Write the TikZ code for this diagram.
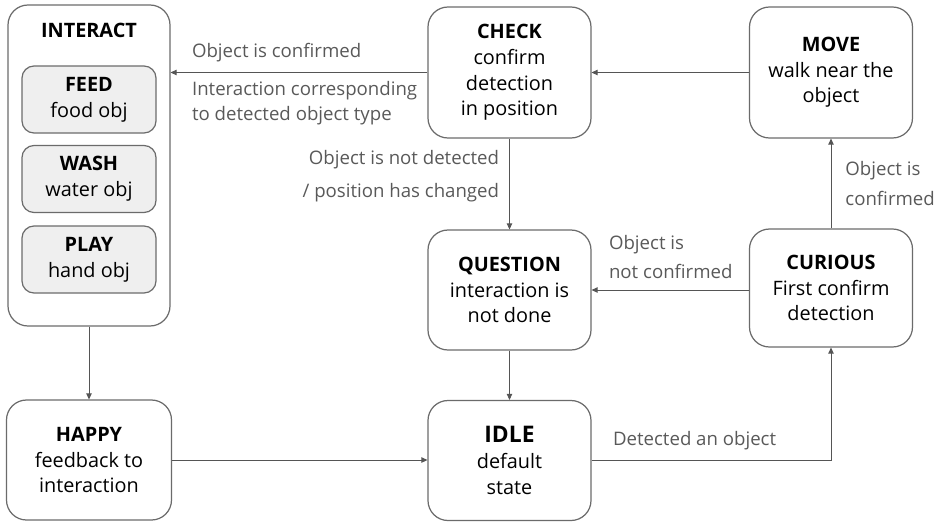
\documentclass[tikz,border=0pt]{standalone}
\usepackage{fontspec}
\setmainfont{Open Sans}
\usetikzlibrary{arrows.meta,positioning,calc}
\definecolor{edge}{HTML}{6B6B6B}
\definecolor{wire}{HTML}{555555}
\definecolor{note}{HTML}{595959}
\definecolor{subfill}{HTML}{EFEFEF}

\begin{document}
\begin{tikzpicture}[
  state/.style={rectangle, draw=edge, line width=0.7pt, rounded corners=0.4cm, minimum width=3.26cm, minimum height=2.4cm, align=center, font=\fontsize{11.3}{14.6}\selectfont, inner sep=1pt},
  sub/.style={rectangle, draw=edge, line width=0.7pt, fill=subfill, rounded corners=0.24cm, minimum width=2.68cm, minimum height=1.34cm, align=center, font=\fontsize{11.3}{15}\selectfont, inner sep=1pt},
  lbl/.style={font=\fontsize{10.6}{16}\selectfont, text=note, inner sep=0pt},
  arr/.style={-{Triangle[length=1.2mm, width=1.1mm]}, line width=0.5pt, draw=wire}
]
  \useasboundingbox (0,0) rectangle (18.78,-10.44);

  % left column
  \node[state, minimum width=3.24cm, minimum height=6.42cm] (interact) at (1.78,-3.31) {};
  \node[font=\fontsize{11.3}{14}\selectfont\bfseries] (interacttitle) at (1.78,-0.6) {INTERACT};
  \node[sub] (feed) at (1.78,-1.99) {\textbf{FEED}\\food obj};
  \node[sub] (wash) at (1.78,-3.58) {\textbf{WASH}\\water obj};
  \node[sub] (play) at (1.78,-5.19) {\textbf{PLAY}\\hand obj};
  \node[state, minimum width=3.3cm] (happy) at (1.78,-9.2) {\textbf{HAPPY}\\feedback to\\interaction};

  % middle column
  \node[state, minimum height=2.62cm] (check) at (10.19,-1.45) {\textbf{CHECK}\\confirm\\detection\\in position};
  \node[state] (question) at (10.19,-5.8) {\textbf{QUESTION}\\interaction is\\not done};
  \node[state] (idle) at (10.19,-9.21) {{\fontsize{13}{14.6}\selectfont\textbf{IDLE}}\\default\\state};

  % right column
  \node[state, minimum height=2.62cm] (move) at (16.62,-1.45) {\textbf{MOVE}\\walk near the\\object};
  \node[state, minimum height=2.36cm] (curious) at (16.62,-5.76) {\textbf{CURIOUS}\\First confirm\\detection};

  % transitions
  \draw[arr] (idle.east) -| (curious.south)
    node[lbl, pos=0, anchor=south west, xshift=0.42cm, yshift=0.2cm] {Detected an object};
  \draw[arr] (curious.north) -- (move.south)
    node[lbl, midway, anchor=west, align=left, xshift=0.28cm, font=\fontsize{10.6}{17}\selectfont] {Object is\\confirmed};
  \draw[arr] (curious.west |- question.east) -- (question.east)
    node[lbl, pos=1, anchor=south west, align=left, xshift=0.34cm, yshift=0.22cm, font=\fontsize{10.6}{16.5}\selectfont] {Object is\\not confirmed};
  \draw[arr] (move.west) -- (check.east);
  \draw[arr] (check.west) -- (check.west -| interact.east)
    node[lbl, pos=1, anchor=south west, xshift=0.42cm, yshift=0.2cm] (confirmed) {Object is confirmed}
    node[lbl, pos=1, anchor=north west, align=left, xshift=0.42cm, yshift=-0.16cm, font=\fontsize{10.6}{14.2}\selectfont] {Interaction corresponding\\to detected object type};
  \draw[arr] (check.south) -- (question.north)
    node[lbl, midway, anchor=east, align=right, xshift=-0.2cm, yshift=0.15cm, font=\fontsize{10.6}{18.8}\selectfont] {Object is not detected\\/ position has changed};
  \draw[arr] (question.south) -- (idle.north);
  \draw[arr] (interact.south) -- (happy.north);
  \draw[arr] (happy.east) -- (happy.east -| idle.west);
\end{tikzpicture}
\end{document}
